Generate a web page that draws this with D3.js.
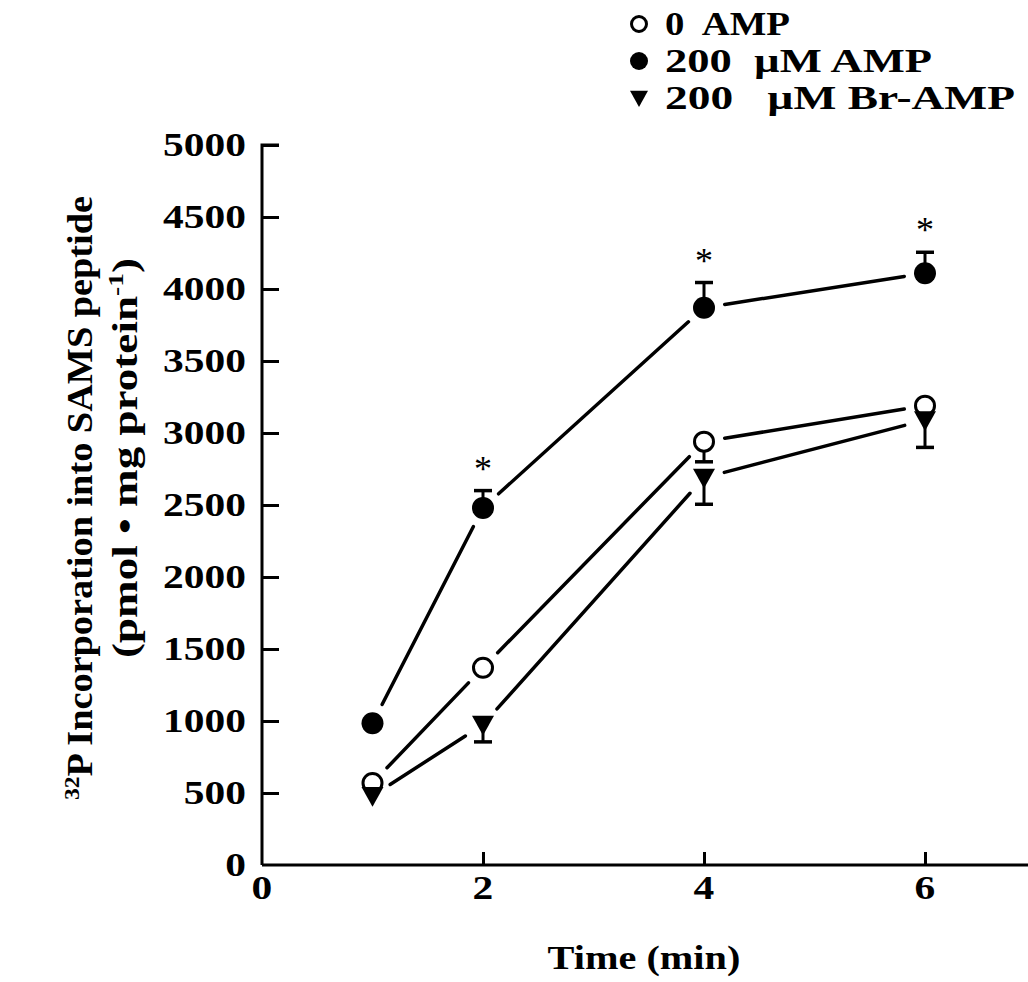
<!DOCTYPE html>
<html>
<head>
<meta charset="utf-8">
<script src="https://cdn.jsdelivr.net/npm/d3@7"></script>
<style>
  body { margin: 0; background: #fff; }
  text { font-family: "Liberation Serif", "Times New Roman", serif; font-weight: bold; fill: #000; white-space: pre; }
</style>
</head>
<body>
<script>
//DATA
const times = [1, 2, 4, 6];
const zeroAmp = [570, 1370, 2940, 3190];
const zeroAmpErr = [0, 0, 140, 0];
const amp200 = [985, 2480, 3870, 4110];
const amp200Err = [0, 120, 175, 145];
const brAmp200 = [480, 975, 2690, 3090];
const brAmp200Err = [0, 120, 185, 190];
const starTimes = [2, 4, 6];
const xTicks = [2, 4, 6];
const yTicks = [500, 1000, 1500, 2000, 2500, 3000, 3500, 4000, 4500, 5000];
const legendLabels = ["0  AMP", "200  \u00b5M AMP", "200   \u00b5M Br-AMP"];

//USEFUL VARIABLES
const svgwidth = 1028;
const svgheight = 982;
const widen = 1.22; // THE SCANNED FONT IS WIDER THAN TIMES
const legendLengths = [125, 267, 350];

const svg = d3.select("body").append("svg")
    .attr("width", svgwidth)
    .attr("height", svgheight);

// STRETCH TEXT HORIZONTALLY
const stretch = sel => sel.each(function() {
    const w = this.getComputedTextLength();
    d3.select(this).attr("textLength", w * widen).attr("lengthAdjust", "spacingAndGlyphs");
});

//SCALES
const X = d3.scaleLinear().domain([0, 7]).range([262, 1035.5]);
const Y = d3.scaleLinear().domain([0, 5000]).range([865, 145]);

//AXES
const yaxis = svg.append("g")
    .attr("transform", `translate(${X(0)},0)`)
    .call(d3.axisRight(Y).tickValues(yTicks).tickSize(17).tickFormat(""));
const xaxis = svg.append("g")
    .attr("transform", `translate(0,${Y(0)})`)
    .call(d3.axisTop(X).tickValues(xTicks).tickSize(13).tickFormat(""));
svg.selectAll(".domain").attr("stroke", "#000").attr("stroke-width", 3);
svg.selectAll(".tick line").attr("stroke", "#000").attr("stroke-width", 3);
yaxis.select(".domain").attr("d", `M0,${Y(0)}V${Y(5000)}H17`);
xaxis.select(".domain").attr("d", `M${X(0)},0H${svgwidth}`);

//TICK LABELS
svg.append("g").selectAll("text").data([0].concat(yTicks)).enter().append("text")
    .attr("x", 246)
    .attr("y", d => Y(d) + 11)
    .attr("text-anchor", "end")
    .style("font-size", "34px")
    .text(d => d)
    .call(stretch);
svg.append("g").selectAll("text").data([0].concat(xTicks)).enter().append("text")
    .attr("x", d => X(d))
    .attr("y", 899)
    .attr("text-anchor", "middle")
    .style("font-size", "34px")
    .text(d => d)
    .call(stretch);

//AXIS TITLES
svg.append("text")
    .attr("x", 644).attr("y", 969)
    .attr("text-anchor", "middle")
    .style("font-size", "33px")
    .text("Time (min)")
    .call(stretch);

const ytitle1 = svg.append("text")
    .attr("transform", "translate(92,498) rotate(-90)")
    .attr("text-anchor", "middle")
    .attr("textLength", 604)
    .attr("lengthAdjust", "spacingAndGlyphs")
    .style("font-size", "36px");
ytitle1.append("tspan").attr("dy", -13).style("font-size", "22px").text("32");
ytitle1.append("tspan").attr("dy", 13).text("P Incorporation into SAMS peptide");

const ytitle2 = svg.append("text")
    .attr("transform", "translate(137,458) rotate(-90)")
    .attr("text-anchor", "middle")
    .attr("textLength", 400)
    .attr("lengthAdjust", "spacingAndGlyphs")
    .style("font-size", "36px");
ytitle2.append("tspan").text("(pmol \u2022 mg protein");
ytitle2.append("tspan").attr("dy", -14).style("font-size", "22px").text("-1");
ytitle2.append("tspan").attr("dy", 14).text(")");

//SERIES
const series = [
    {values: zeroAmp, err: zeroAmpErr, dir: 1, shape: "open"},
    {values: amp200, err: amp200Err, dir: -1, shape: "filled"},
    {values: brAmp200, err: brAmp200Err, dir: 1, shape: "tri"}
];
const gap = 21;

//LINES WITH GAPS AT MARKERS
series.forEach(s => {
    const pts = times.map((t, i) => [X(t), Y(s.values[i])]);
    for (let i = 0; i < pts.length - 1; i++) {
        const [x1, y1] = pts[i], [x2, y2] = pts[i + 1];
        const len = Math.hypot(x2 - x1, y2 - y1);
        const ux = (x2 - x1) / len, uy = (y2 - y1) / len;
        svg.append("line")
            .attr("x1", x1 + ux * gap).attr("y1", y1 + uy * gap)
            .attr("x2", x2 - ux * gap).attr("y2", y2 - uy * gap)
            .attr("stroke", "#000").attr("stroke-width", 3.5)
            .attr("stroke-linecap", "round");
    }
});

//ERROR BARS
series.forEach(s => {
    times.forEach((t, i) => {
        if (!s.err[i]) return;
        const x = X(t);
        const yEnd = s.dir > 0 ? Y(s.values[i] - s.err[i]) : Y(s.values[i] + s.err[i]);
        svg.append("line").attr("x1", x).attr("x2", x)
            .attr("y1", Y(s.values[i])).attr("y2", yEnd)
            .attr("stroke", "#000").attr("stroke-width", 3);
        svg.append("line").attr("x1", x - 9).attr("x2", x + 9)
            .attr("y1", yEnd).attr("y2", yEnd)
            .attr("stroke", "#000").attr("stroke-width", 3.5);
    });
});

//MARKERS
const triPath = (w, h) => `M${-w / 2},${-h * 0.45}L${w / 2},${-h * 0.45}L0,${h * 0.55}Z`;
const drawMarker = (g, shape, x, y, size) => {
    if (shape === "open") {
        g.append("circle").attr("cx", x).attr("cy", y).attr("r", size / 2 - 1.5)
            .attr("fill", "#fff").attr("stroke", "#000").attr("stroke-width", 3);
    } else if (shape === "filled") {
        g.append("circle").attr("cx", x).attr("cy", y).attr("r", size / 2).attr("fill", "#000");
    } else {
        g.append("path").attr("transform", `translate(${x},${y})`)
            .attr("d", triPath(size, size * 0.9)).attr("fill", "#000");
    }
};
const markers = svg.append("g");
series.forEach(s => {
    times.forEach((t, i) => drawMarker(markers, s.shape, X(t), Y(s.values[i]), 22));
});

//SIGNIFICANCE STARS
svg.append("g").selectAll("text").data(starTimes).enter().append("text")
    .attr("x", d => X(d))
    .attr("y", d => {
        const i = times.indexOf(d);
        return Y(amp200[i] + amp200Err[i]) - 10;
    })
    .attr("text-anchor", "middle")
    .style("font-size", "36px")
    .style("font-weight", "normal")
    .text("*");

//LEGEND
const legendShapes = ["open", "filled", "tri"];
const legend = svg.append("g");
legendLabels.forEach((lab, i) => {
    const cy = 24 + i * 37;
    drawMarker(legend, legendShapes[i], 639, cy, 18);
    legend.append("text").attr("x", 665).attr("y", cy + 11)
        .style("font-size", "34px")
        .attr("textLength", legendLengths[i])
        .attr("lengthAdjust", "spacingAndGlyphs")
        .text(lab);
});
</script>
</body>
</html>
